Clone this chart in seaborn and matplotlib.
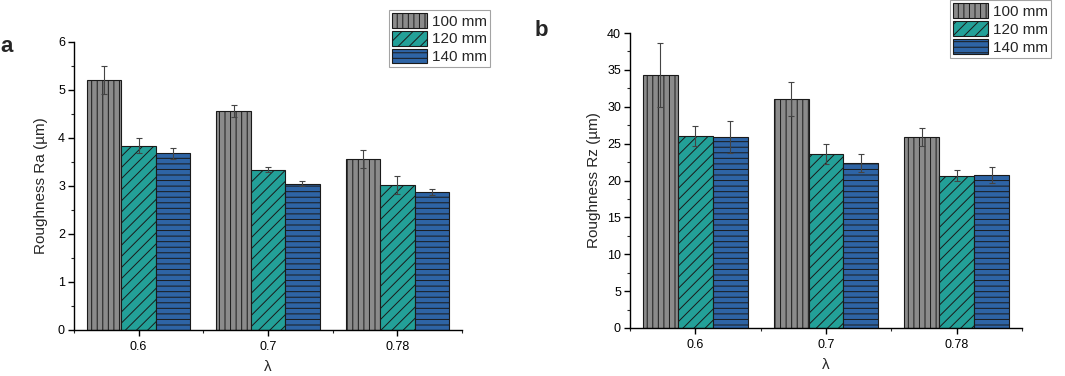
import numpy as np
import pandas as pd
import matplotlib
matplotlib.use("Agg")
import matplotlib.pyplot as plt
from matplotlib.ticker import MultipleLocator, FixedLocator
import seaborn as sns

# ---- data ----
lambdas = ["0.6", "0.7", "0.78"]
sizes = ["100 mm", "120 mm", "140 mm"]
ra_100 = [5.21, 4.56, 3.56]
ra_120 = [3.84, 3.34, 3.02]
ra_140 = [3.68, 3.05, 2.88]
ra_err_100 = [0.30, 0.13, 0.19]
ra_err_120 = [0.15, 0.05, 0.18]
ra_err_140 = [0.12, 0.06, 0.06]
rz_100 = [34.3, 31.0, 25.9]
rz_120 = [26.05, 23.6, 20.65]
rz_140 = [25.9, 22.35, 20.7]
rz_err_100 = [4.35, 2.3, 1.26]
rz_err_120 = [1.35, 1.3, 0.74]
rz_err_140 = [2.23, 1.26, 1.1]

colors = ["#8b8b8b", "#23a098", "#2e64a5"]
hatches = ["|||", "///", "---"]

sns.set_theme(style="ticks")
plt.rcParams["font.family"] = ["Liberation Sans", "DejaVu Sans"]
plt.rcParams["hatch.linewidth"] = 0.7
plt.rcParams["axes.linewidth"] = 1.0


def make_df(v100, v120, v140, e100, e120, e140):
    rows = []
    for vals, errs, s in [(v100, e100, sizes[0]), (v120, e120, sizes[1]), (v140, e140, sizes[2])]:
        for lam, v, e in zip(lambdas, vals, errs):
            rows.append({"lam": lam, "size": s, "val": v, "err": e})
    return pd.DataFrame(rows)


df_a = make_df(ra_100, ra_120, ra_140, ra_err_100, ra_err_120, ra_err_140)
df_b = make_df(rz_100, rz_120, rz_140, rz_err_100, rz_err_120, rz_err_140)

fig = plt.figure(figsize=(10.65, 3.76), dpi=100)
ax_a = fig.add_axes([74 / 1065, 1 - 330 / 376, (462 - 74) / 1065, (330 - 42) / 376])
ax_b = fig.add_axes([630 / 1065, 1 - 328 / 376, (1022 - 630) / 1065, (328 - 33) / 376])


def draw(ax, df, ylabel, ymax, ystep, yminor, ylabelpad):
    sns.barplot(data=df, x="lam", y="val", hue="size", order=lambdas, hue_order=sizes,
                palette=colors, errorbar=None, width=0.8, saturation=1,
                edgecolor="#1a1a1a", linewidth=0.8, ax=ax, legend=False)
    bar_conts = list(ax.containers)[:3]
    for i, cont in enumerate(bar_conts):
        sub = df[df["size"] == sizes[i]].set_index("lam").loc[lambdas]
        xs = []
        for bar in cont:
            bar.set_hatch(hatches[i])
            try:
                bar.set_hatchcolor("#333333")
            except Exception:
                pass
            xs.append(bar.get_x() + bar.get_width() / 2)
        ax.errorbar(xs, sub["val"].values, yerr=sub["err"].values, fmt="none",
                    ecolor="#444444", elinewidth=0.8, capsize=2.2, capthick=0.8, zorder=5)
    ax.set_xlim(-0.5, 2.5)
    ax.set_ylim(0, ymax)
    ax.yaxis.set_major_locator(MultipleLocator(ystep))
    ax.yaxis.set_minor_locator(MultipleLocator(yminor))
    ax.xaxis.set_minor_locator(FixedLocator([-0.5, 0.5, 1.5, 2.5]))
    ax.tick_params(axis="both", which="major", direction="out", length=4, width=1,
                   labelsize=9, colors="black")
    ax.tick_params(axis="y", which="major", pad=2.5)
    ax.tick_params(axis="x", which="major", pad=4)
    ax.tick_params(axis="both", which="minor", direction="out", length=2.5, width=0.8)
    ax.set_ylabel(ylabel, fontsize=11, labelpad=ylabelpad)
    ax.set_xlabel("λ", fontsize=11, labelpad=5)
    sns.despine(ax=ax)
    for sp in ["left", "bottom"]:
        ax.spines[sp].set_color("black")
    handles = [bar_conts[i][0] for i in range(3)]
    return handles


h_a = draw(ax_a, df_a, "Roughness Ra (µm)", 6, 1, 0.5, 7)
h_b = draw(ax_b, df_b, "Roughness Rz (µm)", 40, 5, 2.5, 4.5)

leg_kw = dict(loc="upper left", bbox_transform=fig.transFigure, borderaxespad=0,
              fontsize=11, frameon=True, fancybox=False, edgecolor="#8c8c8c",
              handlelength=2.3, handleheight=1.1, labelspacing=0.15,
              handletextpad=0.3, borderpad=0.2)
leg_a = ax_a.legend(h_a, sizes, bbox_to_anchor=(389 / 1065, 1 - 10 / 376), **leg_kw)
leg_b = ax_b.legend(h_b, sizes, bbox_to_anchor=(950 / 1065, 0.999), **leg_kw)
for leg in (leg_a, leg_b):
    leg.get_frame().set_linewidth(0.8)

fig.text(0.0, 1 - 46 / 376, "a", fontsize=16, fontweight="bold", va="center", ha="left")
fig.text(535 / 1065, 1 - 30 / 376, "b", fontsize=16, fontweight="bold", va="center", ha="left")

fig.savefig("out.png", dpi=100)
